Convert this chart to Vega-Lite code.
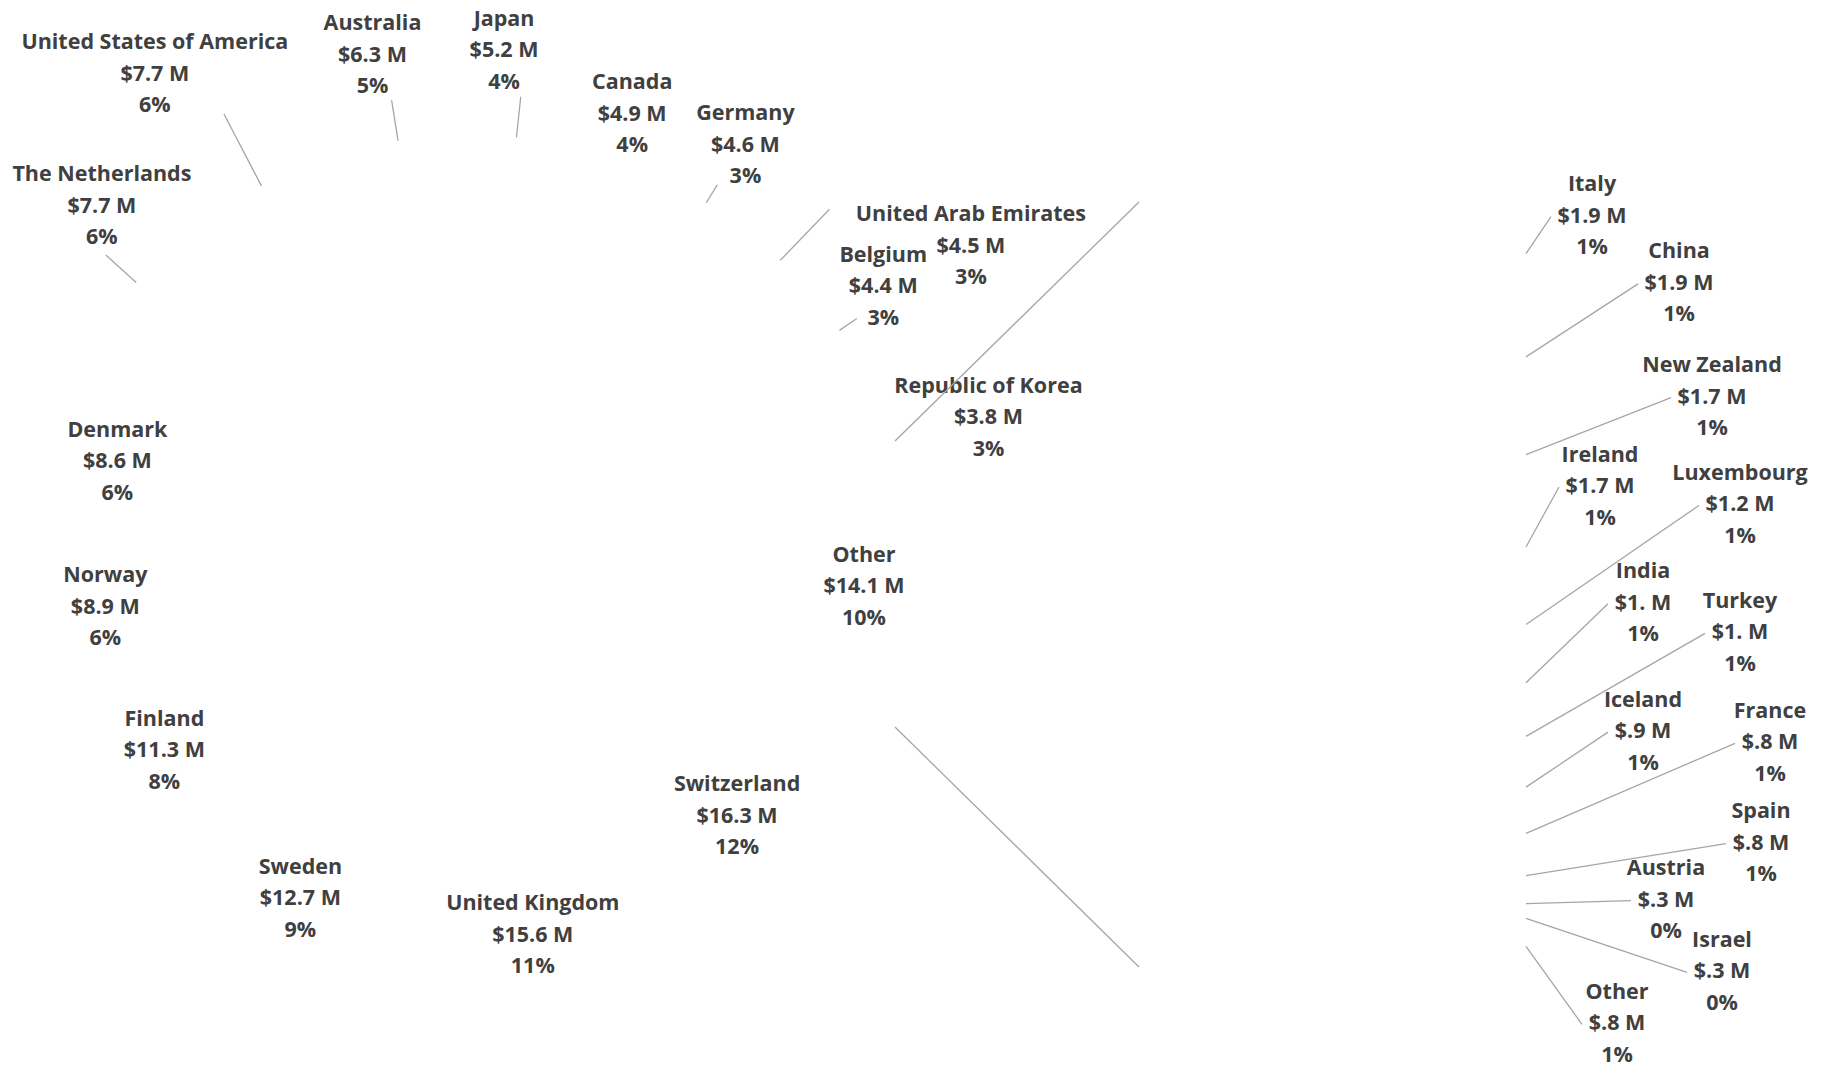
{
  "$schema": "https://vega.github.io/schema/vega-lite/v6.json",
  "width": 938,
  "height": 968,
  "autosize": {"type": "none"},
  "padding": {"left": 0, "top": 100, "right": 888, "bottom": 0},
  "background": "white",
  "config": {
    "view": {"stroke": null},
    "text": {"font": "Open Sans", "fontSize": 21.5, "fontWeight": "bold", "lineHeight": 31.5, "fill": "#404040", "dy": -31.5},
    "rule": {"stroke": "#a6a6a6", "strokeWidth": 1.3}
  },
  "datasets": {
    "main": [
      {"name": "Switzerland", "v": 16.3, "label": ["Switzerland", "$16.3 M", "12%"]},
      {"name": "United Kingdom", "v": 15.6, "label": ["United Kingdom", "$15.6 M", "11%"]},
      {"name": "Sweden", "v": 12.7, "label": ["Sweden", "$12.7 M", "9%"]},
      {"name": "Finland", "v": 11.3, "label": ["Finland", "$11.3 M", "8%"]},
      {"name": "Norway", "v": 8.9, "label": ["Norway", "$8.9 M", "6%"]},
      {"name": "Denmark", "v": 8.6, "label": ["Denmark", "$8.6 M", "6%"]},
      {"name": "The Netherlands", "v": 7.7, "label": ["The Netherlands", "$7.7 M", "6%"]},
      {"name": "United States of America", "v": 7.7, "label": ["United States of America", "$7.7 M", "6%"]},
      {"name": "Australia", "v": 6.3, "label": ["Australia", "$6.3 M", "5%"]},
      {"name": "Japan", "v": 5.2, "label": ["Japan", "$5.2 M", "4%"]},
      {"name": "Canada", "v": 4.9, "label": ["Canada", "$4.9 M", "4%"]},
      {"name": "Germany", "v": 4.6, "label": ["Germany", "$4.6 M", "3%"]},
      {"name": "United Arab Emirates", "v": 4.5, "label": ["United Arab Emirates", "$4.5 M", "3%"]},
      {"name": "Belgium", "v": 4.4, "label": ["Belgium", "$4.4 M", "3%"]},
      {"name": "Republic of Korea", "v": 3.8, "label": ["Republic of Korea", "$3.8 M", "3%"]},
      {"name": "Other", "v": 14.1, "label": ["Other", "$14.1 M", "10%"]}
    ],
    "sec": [
      {"name": "Italy", "v": 1.9, "label": ["Italy", "$1.9 M", "1%"]},
      {"name": "China", "v": 1.9, "label": ["China", "$1.9 M", "1%"]},
      {"name": "New Zealand", "v": 1.7, "label": ["New Zealand", "$1.7 M", "1%"]},
      {"name": "Ireland", "v": 1.7, "label": ["Ireland", "$1.7 M", "1%"]},
      {"name": "Luxembourg", "v": 1.15, "label": ["Luxembourg", "$1.2 M", "1%"]},
      {"name": "India", "v": 1.0, "label": ["India", "$1. M", "1%"]},
      {"name": "Turkey", "v": 0.97, "label": ["Turkey", "$1. M", "1%"]},
      {"name": "Iceland", "v": 0.9, "label": ["Iceland", "$.9 M", "1%"]},
      {"name": "France", "v": 0.8, "label": ["France", "$.8 M", "1%"]},
      {"name": "Spain", "v": 0.76, "label": ["Spain", "$.8 M", "1%"]},
      {"name": "Austria", "v": 0.27, "label": ["Austria", "$.3 M", "0%"]},
      {"name": "Israel", "v": 0.27, "label": ["Israel", "$.3 M", "0%"]},
      {"name": "Other", "v": 0.76, "label": ["Other", "$.8 M", "1%"]}
    ]
  },
  "layer": [
    {
      "data": {"name": "main"},
      "mark": {"type": "arc", "radius": 449, "fill": "white", "strokeWidth": 0},
      "encoding": {
        "theta": {"field": "v", "type": "quantitative", "stack": true, "scale": {"domain": [0, 136.6], "range": [1.8951, 8.1783], "zero": false, "nice": false}}
      }
    },
    {
      "data": {"name": "main"},
      "transform": [
        {"stack": "v", "groupby": [], "as": ["a0", "a1"]},
        {"fold": ["a0", "a1"], "as": ["edge", "pos"]},
        {"joinaggregate": [{"op": "mean", "field": "pos", "as": "mid"}], "groupby": ["name"]},
        {"filter": {"field": "edge", "equal": "a0"}}
      ],
      "encoding": {
        "theta": {"field": "mid", "type": "quantitative", "stack": null, "scale": {"domain": [0, 136.6], "range": [1.8951, 8.1783], "zero": false, "nice": false}},
        "text": {"field": "label", "type": "nominal"}
      },
      "layer": [
        {"transform": [{"filter": {"field": "name", "oneOf": ["The Netherlands", "Australia", "Japan"]}}],
         "mark": {"type": "arc", "radius": 490, "radius2": 449, "fillOpacity": 0, "stroke": "#a6a6a6", "strokeWidth": 1.3},
         "encoding": {"theta2": {"field": "mid"}, "text": null}},
        {"transform": [{"filter": {"field": "name", "oneOf": ["Germany", "Belgium"]}}],
         "mark": {"type": "arc", "radius": 470, "radius2": 449, "fillOpacity": 0, "stroke": "#a6a6a6", "strokeWidth": 1.3},
         "encoding": {"theta2": {"field": "mid"}, "text": null}},
        {"transform": [{"filter": {"field": "name", "equal": "United Arab Emirates"}}],
         "mark": {"type": "arc", "radius": 520, "radius2": 449, "fillOpacity": 0, "stroke": "#a6a6a6", "strokeWidth": 1.3},
         "encoding": {"theta2": {"field": "mid"}, "text": null}},
        {"transform": [{"filter": {"field": "name", "equal": "United States of America"}}],
         "mark": {"type": "arc", "radius": 530, "radius2": 449, "fillOpacity": 0, "stroke": "#a6a6a6", "strokeWidth": 1.3},
         "encoding": {"theta2": {"field": "mid"}, "text": null}},
        {"transform": [{"filter": {"field": "name", "equal": "Switzerland"}}], "mark": {"type": "text", "radius": 362, "dx": -9, "dy": -31.5}},
        {"transform": [{"filter": {"field": "name", "equal": "United Kingdom"}}], "mark": {"type": "text", "radius": 362, "dx": 14, "dy": -38.5}},
        {"transform": [{"filter": {"field": "name", "equal": "Sweden"}}], "mark": {"type": "text", "radius": 362, "dx": 9, "dy": -31.5}},
        {"transform": [{"filter": {"field": "name", "equal": "Finland"}}], "mark": {"type": "text", "radius": 362, "dx": 12, "dy": -39.5}},
        {"transform": [{"filter": {"field": "name", "equal": "Norway"}}], "mark": {"type": "text", "radius": 362, "dx": -2, "dy": -22.5}},
        {"transform": [{"filter": {"field": "name", "equal": "Denmark"}}], "mark": {"type": "text", "radius": 362, "dx": -13, "dy": -25.5}},
        {"transform": [{"filter": {"field": "name", "equal": "Other"}}], "mark": {"type": "text", "radius": 395, "dy": -28.5}},
        {"transform": [{"filter": {"field": "name", "equal": "The Netherlands"}}], "mark": {"type": "text", "radius": 525, "dx": 22, "dy": -56.5}},
        {"transform": [{"filter": {"field": "name", "equal": "Australia"}}], "mark": {"type": "text", "radius": 535, "dx": -12, "dy": -31.5}},
        {"transform": [{"filter": {"field": "name", "equal": "Japan"}}], "mark": {"type": "text", "radius": 540, "dx": -22, "dy": -27.5}},
        {"transform": [{"filter": {"field": "name", "equal": "Canada"}}], "mark": {"type": "text", "radius": 510, "dx": -6, "dy": -19.5}},
        {"transform": [{"filter": {"field": "name", "equal": "Germany"}}], "mark": {"type": "text", "radius": 510, "dx": 7, "dy": -36.5}},
        {"transform": [{"filter": {"field": "name", "equal": "Belgium"}}], "mark": {"type": "text", "radius": 525, "dx": -19, "dy": -31.5}},
        {"transform": [{"filter": {"field": "name", "equal": "United Arab Emirates"}}], "mark": {"type": "text", "radius": 525, "dx": 138, "dy": 9.5}},
        {"transform": [{"filter": {"field": "name", "equal": "Republic of Korea"}}], "mark": {"type": "text", "radius": 545, "dx": 20, "dy": 21}},
        {"transform": [{"filter": {"field": "name", "equal": "United States of America"}}], "mark": {"type": "text", "radius": 580, "dx": -46, "dy": -26.5}}
      ]
    },
    {
      "data": {"name": "sec"},
      "transform": [
        {"stack": "v", "groupby": [], "as": ["s0", "s1"]},
        {"fold": ["s0", "s1"], "as": ["edge", "pos"]},
        {"joinaggregate": [{"op": "mean", "field": "pos", "as": "mid"}], "groupby": ["name"]},
        {"filter": {"field": "edge", "equal": "s0"}}
      ],
      "encoding": {
        "y": {"field": "mid", "type": "quantitative", "scale": {"domain": [0, 14.08], "range": [102, 867], "zero": false, "nice": false}, "axis": null}
      },
      "layer": [
        {"transform": [{"filter": {"field": "name", "equal": "Italy"}}], "layer": [
          {"mark": {"type": "rule", "y2Offset": -37}, "encoding": {"x": {"value": 1526}, "x2": {"value": 1551}, "y2": {"field": "mid"}}},
          {"mark": {"type": "text", "dy": -68.5}, "encoding": {"x": {"value": 1592}, "text": {"field": "label", "type": "nominal"}}}]},
        {"transform": [{"filter": {"field": "name", "equal": "China"}}], "layer": [
          {"mark": {"type": "rule", "y2Offset": -73}, "encoding": {"x": {"value": 1526}, "x2": {"value": 1638}, "y2": {"field": "mid"}}},
          {"mark": {"type": "text", "dy": -104.5}, "encoding": {"x": {"value": 1679}, "text": {"field": "label", "type": "nominal"}}}]},
        {"transform": [{"filter": {"field": "name", "equal": "New Zealand"}}], "layer": [
          {"mark": {"type": "rule", "y2Offset": -57}, "encoding": {"x": {"value": 1526}, "x2": {"value": 1671}, "y2": {"field": "mid"}}},
          {"mark": {"type": "text", "dy": -88.5}, "encoding": {"x": {"value": 1712}, "text": {"field": "label", "type": "nominal"}}}]},
        {"transform": [{"filter": {"field": "name", "equal": "Ireland"}}], "layer": [
          {"mark": {"type": "rule", "y2Offset": -60}, "encoding": {"x": {"value": 1526}, "x2": {"value": 1559}, "y2": {"field": "mid"}}},
          {"mark": {"type": "text", "dy": -91.5}, "encoding": {"x": {"value": 1600}, "text": {"field": "label", "type": "nominal"}}}]},
        {"transform": [{"filter": {"field": "name", "equal": "Luxembourg"}}], "layer": [
          {"mark": {"type": "rule", "y2Offset": -119}, "encoding": {"x": {"value": 1526}, "x2": {"value": 1699}, "y2": {"field": "mid"}}},
          {"mark": {"type": "text", "dy": -150.5}, "encoding": {"x": {"value": 1740}, "text": {"field": "label", "type": "nominal"}}}]},
        {"transform": [{"filter": {"field": "name", "equal": "India"}}], "layer": [
          {"mark": {"type": "rule", "y2Offset": -79}, "encoding": {"x": {"value": 1526}, "x2": {"value": 1608}, "y2": {"field": "mid"}}},
          {"mark": {"type": "text", "dy": -110.5}, "encoding": {"x": {"value": 1643}, "text": {"field": "label", "type": "nominal"}}}]},
        {"transform": [{"filter": {"field": "name", "equal": "Turkey"}}], "layer": [
          {"mark": {"type": "rule", "y2Offset": -103}, "encoding": {"x": {"value": 1526}, "x2": {"value": 1705}, "y2": {"field": "mid"}}},
          {"mark": {"type": "text", "dy": -134.5}, "encoding": {"x": {"value": 1740}, "text": {"field": "label", "type": "nominal"}}}]},
        {"transform": [{"filter": {"field": "name", "equal": "Iceland"}}], "layer": [
          {"mark": {"type": "rule", "y2Offset": -55}, "encoding": {"x": {"value": 1526}, "x2": {"value": 1608}, "y2": {"field": "mid"}}},
          {"mark": {"type": "text", "dy": -86.5}, "encoding": {"x": {"value": 1643}, "text": {"field": "label", "type": "nominal"}}}]},
        {"transform": [{"filter": {"field": "name", "equal": "France"}}], "layer": [
          {"mark": {"type": "rule", "y2Offset": -90}, "encoding": {"x": {"value": 1526}, "x2": {"value": 1735}, "y2": {"field": "mid"}}},
          {"mark": {"type": "text", "dy": -121.5}, "encoding": {"x": {"value": 1770}, "text": {"field": "label", "type": "nominal"}}}]},
        {"transform": [{"filter": {"field": "name", "equal": "Spain"}}], "layer": [
          {"mark": {"type": "rule", "y2Offset": -32}, "encoding": {"x": {"value": 1526}, "x2": {"value": 1726}, "y2": {"field": "mid"}}},
          {"mark": {"type": "text", "dy": -63.5}, "encoding": {"x": {"value": 1761}, "text": {"field": "label", "type": "nominal"}}}]},
        {"transform": [{"filter": {"field": "name", "equal": "Austria"}}], "layer": [
          {"mark": {"type": "rule", "y2Offset": -3}, "encoding": {"x": {"value": 1526}, "x2": {"value": 1631}, "y2": {"field": "mid"}}},
          {"mark": {"type": "text", "dy": -34.5}, "encoding": {"x": {"value": 1666}, "text": {"field": "label", "type": "nominal"}}}]},
        {"transform": [{"filter": {"field": "name", "equal": "Israel"}}], "layer": [
          {"mark": {"type": "rule", "y2Offset": 54}, "encoding": {"x": {"value": 1526}, "x2": {"value": 1687}, "y2": {"field": "mid"}}},
          {"mark": {"type": "text", "dy": 22.5}, "encoding": {"x": {"value": 1722}, "text": {"field": "label", "type": "nominal"}}}]},
        {"transform": [{"filter": {"field": "name", "equal": "Other"}}], "layer": [
          {"mark": {"type": "rule", "y2Offset": 78}, "encoding": {"x": {"value": 1526}, "x2": {"value": 1582}, "y2": {"field": "mid"}}},
          {"mark": {"type": "text", "dy": 46.5}, "encoding": {"x": {"value": 1617}, "text": {"field": "label", "type": "nominal"}}}]}
      ]
    },
    {
      "data": {"name": "main"},
      "transform": [{"filter": {"field": "name", "equal": "Other"}}],
      "layer": [
        {"mark": {"type": "rule"}, "encoding": {"x": {"value": 895}, "y": {"value": 341}, "x2": {"value": 1139}, "y2": {"value": 102}}},
        {"mark": {"type": "rule"}, "encoding": {"x": {"value": 895}, "y": {"value": 627}, "x2": {"value": 1139}, "y2": {"value": 867}}}
      ]
    }
  ]
}
